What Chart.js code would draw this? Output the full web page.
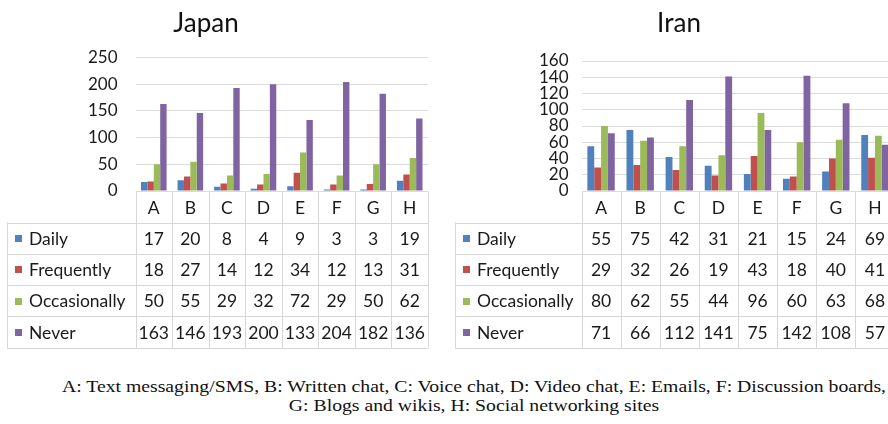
<!DOCTYPE html>
<html>
<head>
<meta charset="utf-8">
<script src="https://cdn.jsdelivr.net/npm/chart.js@4/dist/chart.umd.min.js"></script>
<style>
  html, body { margin: 0; padding: 0; background: #fff; width: 888px; height: 424px; overflow: hidden; position: relative; }
  canvas { position: absolute; top: 0; }
  #cJapan { left: 0; }
  #cIran { left: 440px; }
  #caption { position: absolute; left: 0; width: 948px; top: 377px; text-align: center;
    font-family: "Liberation Serif", "Times New Roman", serif; font-size: 17px; line-height: 19px; color: #111;
    transform: scaleX(1.16); transform-origin: 474px 0; }
</style>
</head>
<body>
<canvas id="cJapan" width="440" height="352"></canvas>
<canvas id="cIran" width="470" height="352"></canvas>
<div id="caption">A: Text messaging/SMS, B: Written chat, C: Voice chat, D: Video chat, E: Emails, F: Discussion boards,<br>G: Blogs and wikis, H: Social networking sites</div>
<script>
// ---- data ----
const categories = ['A', 'B', 'C', 'D', 'E', 'F', 'G', 'H'];
const seriesNames = ['Daily', 'Frequently', 'Occasionally', 'Never'];
const seriesColors = ['#4F81BD', '#C0504D', '#9BBB59', '#8064A2'];

const japanDaily        = [17, 20, 8, 4, 9, 3, 3, 19];
const japanFrequently   = [18, 27, 14, 12, 34, 12, 13, 31];
const japanOccasionally = [50, 55, 29, 32, 72, 29, 50, 62];
const japanNever        = [163, 146, 193, 200, 133, 204, 182, 136];

const iranDaily        = [55, 75, 42, 31, 21, 15, 24, 69];
const iranFrequently   = [29, 32, 26, 19, 43, 18, 40, 41];
const iranOccasionally = [80, 62, 55, 44, 96, 60, 63, 68];
const iranNever        = [71, 66, 112, 141, 75, 142, 108, 57];

const japanTicks = { min: 0, max: 250, step: 50 };
const iranTicks  = { min: 0, max: 160, step: 20 };

const FONT = 'Lato, "Open Sans", sans-serif';

function tablePlugin(cfg) {
  return {
    id: 'dataTable_' + cfg.title,
    afterDraw(chart) {
      const ctx = chart.ctx;
      const area = chart.chartArea;
      const xs = chart.scales.x;
      const n = categories.length;
      const band = (area.right - area.left) / n;
      const rowsY = [191.5, 222.5, 253.8, 285.1, 316.4, 347.7];
      ctx.save();
      // title
      ctx.fillStyle = '#111';
      ctx.font = '26px ' + FONT;
      ctx.textAlign = 'center';
      ctx.textBaseline = 'alphabetic';
      ctx.fillText(cfg.title, cfg.titleX, 32);

      // grid lines of table
      ctx.strokeStyle = '#d6d6d6';
      ctx.lineWidth = 1;
      ctx.beginPath();
      for (let i = 0; i <= n; i++) {
        const x = Math.round(area.left + i * band) + 0.5;
        ctx.moveTo(x, rowsY[0]);
        ctx.lineTo(x, rowsY[5]);
      }
      ctx.moveTo(cfg.legendLeft + 0.5, rowsY[1]);
      ctx.lineTo(cfg.legendLeft + 0.5, rowsY[5]);
      for (let r = 1; r < rowsY.length; r++) {
        const y = Math.round(rowsY[r]) + 0.5;
        ctx.moveTo(cfg.legendLeft, y);
        ctx.lineTo(area.right, y);
      }
      ctx.stroke();

      // header letters
      ctx.fillStyle = '#1a1a1a';
      ctx.font = '17.5px ' + FONT;
      ctx.textBaseline = 'middle';
      ctx.textAlign = 'center';
      categories.forEach((c, i) => {
        ctx.fillText(c, xs.getPixelForValue(i), (rowsY[0] + rowsY[1]) / 2 + 1);
      });

      // rows
      chart.data.datasets.forEach((ds, r) => {
        const yc = (rowsY[r + 1] + rowsY[r + 2]) / 2 + 1;
        ctx.fillStyle = ds.backgroundColor;
        ctx.fillRect(cfg.legendLeft + 8, Math.round(yc - 4), 7, 7);
        ctx.fillStyle = '#1a1a1a';
        ctx.textAlign = 'left';
        ctx.fillText(ds.label, cfg.legendLeft + 22, yc);
        ctx.textAlign = 'center';
        ds.data.forEach((v, i) => {
          ctx.fillText(String(v), xs.getPixelForValue(i), yc);
        });
      });
      ctx.restore();
    }
  };
}

function makeChart(id, seriesData, ticks, geo) {
  const datasets = seriesNames.map((name, i) => ({
    label: name,
    data: seriesData[i],
    backgroundColor: seriesColors[i],
    borderWidth: 0,
    categoryPercentage: 0.7,
    barPercentage: 1.0
  }));
  return new Chart(document.getElementById(id), {
    type: 'bar',
    data: { labels: categories, datasets },
    options: {
      responsive: false,
      animation: false,
      layout: { padding: { left: 0, right: geo.padRight, top: geo.top, bottom: 352 - 191 } },
      plugins: { legend: { display: false }, tooltip: { enabled: false }, title: { display: false } },
      scales: {
        x: { display: false },
        y: {
          min: ticks.min, max: ticks.max,
          afterFit(scale) { scale.width = geo.axisWidth; },
          border: { display: false },
          grid: { color: '#dcdcdc', drawTicks: false },
          ticks: {
            stepSize: ticks.step, autoSkip: false, padding: geo.tickPad,
            color: '#1a1a1a', font: { family: FONT, size: geo.tickSize }
          }
        }
      }
    },
    plugins: [tablePlugin(geo)]
  });
}

makeChart('cJapan',
  [japanDaily, japanFrequently, japanOccasionally, japanNever],
  japanTicks,
  { title: 'Japan', titleX: 206, legendLeft: 7, axisWidth: 135.5, padRight: 12, top: 57.5, tickPad: 18, tickSize: 17 });

makeChart('cIran',
  [iranDaily, iranFrequently, iranOccasionally, iranNever],
  iranTicks,
  { title: 'Iran', titleX: 239, legendLeft: 15, axisWidth: 141.5, padRight: 15.5, top: 61, tickPad: 13, tickSize: 17 });
</script>
</body>
</html>
